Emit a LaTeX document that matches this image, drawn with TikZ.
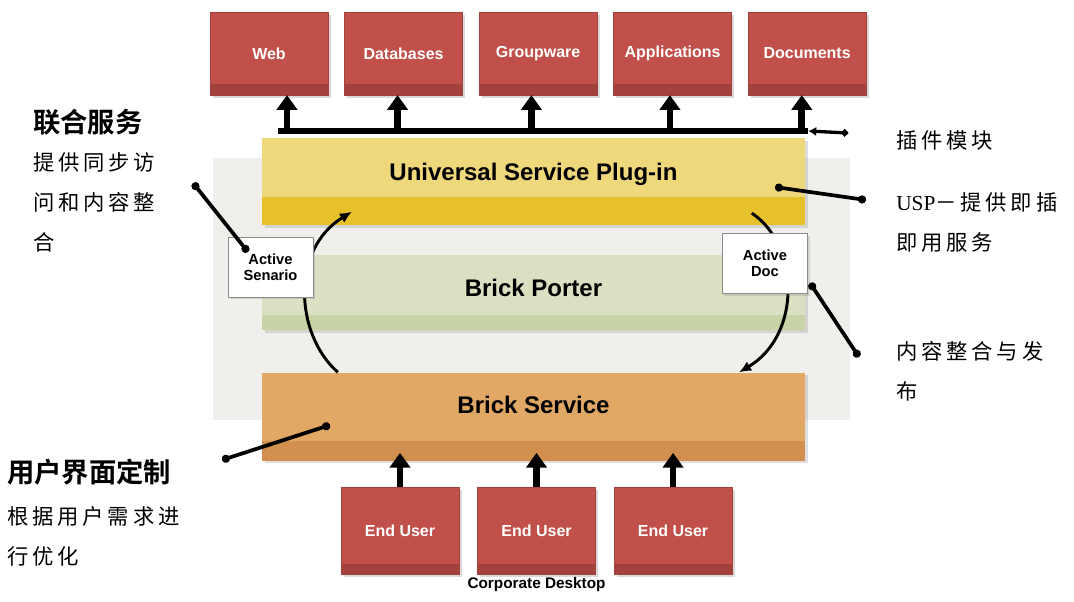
\documentclass[tikz,border=0pt]{standalone}
\usepackage{fontspec}
\setmainfont{Liberation Sans}
\newfontfamily\serif{Liberation Serif}
\newfontfamily\cjk[LetterSpace=18]{Noto Sans CJK SC}
\newfontfamily\cjkhead[BoldFont={Noto Sans CJK SC Bold}]{Noto Sans CJK SC}
\usetikzlibrary{positioning,shadows,arrows.meta}
\definecolor{brick}{HTML}{C2504A}
\definecolor{brickdark}{HTML}{A3423D}
\definecolor{uspTop}{HTML}{EFD77C}
\definecolor{uspBot}{HTML}{E7C12C}
\definecolor{porterTop}{HTML}{DAE1C3}
\definecolor{porterBot}{HTML}{C8D3A6}
\definecolor{serviceTop}{HTML}{E0A864}
\definecolor{serviceBot}{HTML}{D29050}
\definecolor{panelgray}{HTML}{F1EFEB}
\tikzstyle{app}=[rectangle, fill=brick, draw=brickdark, text=white, minimum width=88.5pt, minimum height=62pt, inner sep=0pt, font=\bfseries\fontsize{12}{12}\selectfont, drop shadow={opacity=0.3, shadow xshift=2pt, shadow yshift=-2pt}, path picture={\fill[brickdark] (path picture bounding box.south west) rectangle ([yshift=8pt]path picture bounding box.south east);}]
\tikzstyle{layer}=[rectangle, minimum width=407pt, inner sep=0pt, text=black, font=\bfseries\fontsize{18}{18}\selectfont, drop shadow={opacity=0.25, shadow xshift=2pt, shadow yshift=-2pt}]
\tikzstyle{tagbox}=[rectangle, fill=white, draw=black!45, minimum width=64pt, minimum height=45pt, align=center, font=\bfseries\fontsize{11}{12}\selectfont, drop shadow={opacity=0.25, shadow xshift=1.5pt, shadow yshift=-1.5pt}]
\tikzstyle{head}=[inner sep=0pt, font=\cjkhead\bfseries\fontsize{20.5}{20.5}\selectfont]
\tikzstyle{note}=[inner sep=0pt, align=left, font=\cjk\fontsize{16}{30}\selectfont]
\tikzstyle{bigarrow}=[line width=5pt, -{Triangle[width=15pt,length=11pt]}]
\tikzstyle{arc}=[line width=2.2pt, -{Latex[length=9pt,width=8pt]}]
\tikzstyle{pointer}=[line width=2.8pt, {Circle[length=6pt]}-{Circle[length=6pt]}]

\begin{document}
\begin{tikzpicture}[x=0.75pt,y=-0.75pt]
    \useasboundingbox (0,0) rectangle (1074,601);

    % back panel
    \node(panel)[rectangle, fill=panelgray, minimum width=478pt, minimum height=197pt, inner sep=0pt] at (531.5,289) {};

    % layers
    \node(usp)[layer, minimum height=65pt, fill=uspTop, path picture={\fill[uspBot] (path picture bounding box.south west) rectangle ([yshift=21pt]path picture bounding box.south east);}] at (533.5,181.5) {
        \raisebox{14pt}{Universal Service Plug-in}
    };
    \node(porter)[layer, minimum height=56pt, fill=porterTop, below=22.5pt of usp, path picture={\fill[porterBot] (path picture bounding box.south west) rectangle ([yshift=11pt]path picture bounding box.south east);}] {
        \raisebox{8pt}{Brick Porter}
    };
    \node(service)[layer, minimum height=66pt, fill=serviceTop, below=31.5pt of porter, path picture={\fill[serviceBot] (path picture bounding box.south west) rectangle ([yshift=15pt]path picture bounding box.south east);}] {
        \raisebox{18pt}{Brick Service}
    };

    % cycle arcs
    \draw[arc] ([xshift=57pt]service.north west) .. controls +(-32pt,28pt) and +(-46.5pt,-28.5pt) .. ([xshift=67.5pt,yshift=10pt]usp.south west);
    \draw[arc] ([xshift=-40pt,yshift=9pt]usp.south east) .. controls +(36pt,-24pt) and +(47pt,28pt) .. ([xshift=-49.5pt]service.north east);

    \node(senario)[tagbox] at (270.5,267) {Active\\Senario};
    \node(doc)[tagbox] at (765,263.5) {Active\\Doc};

    % bus and sources
    \node(bus)[rectangle, fill=black, inner sep=0pt, minimum width=397.5pt, minimum height=5pt] at (543,131) {};

    \node(web)[app] at (269,53.5) {Web};
    \node(db)[app, right=12pt of web] {Databases};
    \node(gw)[app, right=12pt of db] {Groupware};
    \node(apps)[app, right=12pt of gw] {Applications};
    \node(docs)[app, right=12pt of apps] {Documents};

    \foreach \b/\o in {web/13.5, db/-4.5, gw/-5, apps/-2, docs/-4}
        \draw[bigarrow] ([xshift=\o pt, yshift=-27pt]\b.south) -- ([xshift=\o pt]\b.south);

    % desktop
    \node(eu1)[app, minimum height=65pt] at (400,531) {End User};
    \node(eu2)[app, minimum height=65pt, right=13.5pt of eu1] {End User};
    \node(eu3)[app, minimum height=65pt, right=13.5pt of eu2] {End User};
    \node(desk)[below=2pt of eu2, inner sep=0pt, font=\bfseries\fontsize{11.5}{11.5}\selectfont] {Corporate Desktop};

    \foreach \u in {eu1,eu2,eu3}
        \draw[bigarrow, shorten >=-6pt] (\u.north) -- (\u.north |- service.south);

    % notes
    \node(fedhead)[head, anchor=west] at (33,122) {联合服务};
    \node(fedbody)[note, anchor=north west] at (33,152) {提供同步访\\问和内容整\\合};
    \node(uihead)[head, anchor=west] at (7,472) {用户界面定制};
    \node(uibody)[note, anchor=north west] at (7,506) {根据用户需求进\\行优化};
    \node(plugnote)[note, anchor=west] at (896,140) {插件模块};
    \node(uspnote)[note, anchor=north west] at (896,192) {{\serif USP}－提供即插\\即用服务};
    \node(pubnote)[note, anchor=north west] at (896,341) {内容整合与发\\布};

    \coordinate (p1a) at (193,183);
    \coordinate (p1b) at (248,252);
    \coordinate (p2a) at (775,187);
    \coordinate (p2b) at (866,200);
    \coordinate (p3a) at (810,283);
    \coordinate (p3b) at (859,357);
    \coordinate (p4a) at (330,425);
    \coordinate (p4b) at (222,460);
    \coordinate (p5b) at (848,133);

    \draw[pointer] (p1a) -- (p1b);
    \draw[pointer] (p2a) -- (p2b);
    \draw[pointer] (p3a) -- (p3b);
    \draw[pointer] (p4a) -- (p4b);
    \draw[line width=2.5pt, {Latex[length=6pt,width=7pt]}-{Circle[length=5pt]}] (bus.east) -- (p5b);
\end{tikzpicture}
\end{document}
